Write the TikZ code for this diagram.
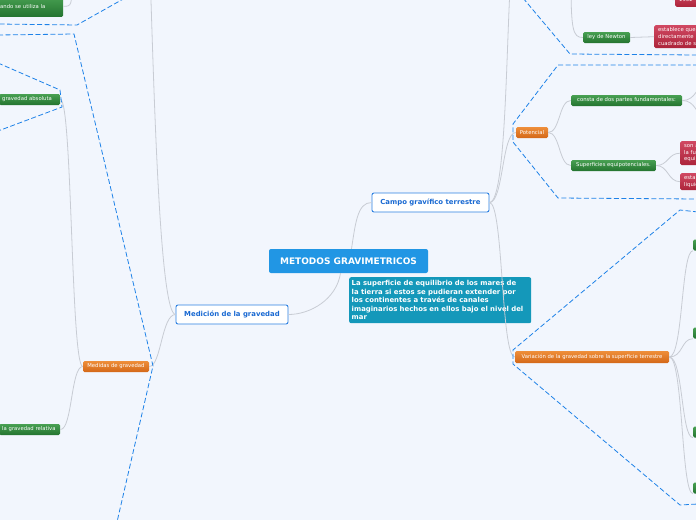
\documentclass[tikz,border=0pt]{standalone}
\usepackage{fontspec}
\setmainfont{DejaVu Sans}
\usepackage{tikz}
\definecolor{mapbg}{RGB}{242,246,253}
\definecolor{maproot}{RGB}{33,150,228}
\definecolor{mapnote}{RGB}{20,152,186}
\definecolor{maptopic}{RGB}{45,128,225}
\definecolor{maptopictext}{RGB}{25,105,210}
\definecolor{maplink}{RGB}{200,204,212}
\definecolor{mapzone}{RGB}{30,130,232}
\definecolor{mapgreentop}{RGB}{72,160,82}
\definecolor{mapgreenbot}{RGB}{36,116,48}
\definecolor{maporangetop}{RGB}{238,142,58}
\definecolor{maporangebot}{RGB}{212,104,24}
\definecolor{mapredtop}{RGB}{208,72,98}
\definecolor{mapredbot}{RGB}{172,36,58}
\tikzset{
  mapRoot/.style={
    rectangle,
    rounded corners=2pt,
    fill=maproot,
    text=white,
    font=\fontsize{9}{10}\selectfont\bfseries,
    minimum width=159pt,
    minimum height=24pt,
    inner sep=0pt
  },
  mapNote/.style={
    rectangle,
    rounded corners=2pt,
    fill=mapnote,
    text=white,
    font=\fontsize{6.9}{8.4}\selectfont\bfseries,
    text width=177pt,
    align=left,
    inner xsep=2.5pt,
    inner ysep=3pt,
    minimum height=46pt
  },
  mapTopic/.style={
    rectangle,
    rounded corners=2pt,
    draw=maptopic,
    line width=0.9pt,
    fill=white,
    text=maptopictext,
    font=\fontsize{6.9}{8}\selectfont\bfseries,
    minimum height=19pt,
    inner sep=0pt
  },
  mapSub/.style={
    rectangle,
    rounded corners=1.5pt,
    text=white,
    font=\fontsize{5.3}{6.7}\selectfont,
    minimum height=11pt,
    inner sep=0pt
  },
  mapGreen/.style={
    mapSub,
    top color=mapgreentop,
    bottom color=mapgreenbot
  },
  mapOrange/.style={
    mapSub,
    top color=maporangetop,
    bottom color=maporangebot
  },
  mapRed/.style={
    mapSub,
    top color=mapredtop,
    bottom color=mapredbot,
    align=left,
    inner xsep=4pt
  },
  mapLink/.style={
    draw=maplink,
    line width=0.8pt
  },
  mapZone/.style={
    draw=mapzone,
    line width=0.8pt,
    dash pattern=on 5pt off 2.5pt
  }
}

\begin{document}
\begin{tikzpicture}[x=1pt, y=-1pt]
  \useasboundingbox (0,0) rectangle (696,520);
  \clip (0,0) rectangle (696,520);
  \fill[mapbg] (0,0) rectangle (696,520);

  \node[mapRoot] (root) at (348.5,261) {METODOS GRAVIMETRICOS};
  \node[mapNote, anchor=north west] (note) at (349,277)
    {La superficie de equilibrio de los mares de\\la tierra si estos se pudieran extender por\\los continentes a través de canales\\imaginarios hechos en ellos bajo el nivel del\\mar};

  \node[mapTopic, minimum width=117pt] (campo) at (430.5,202.5) {Campo gravífico terrestre};
  \node[mapTopic, minimum width=112pt] (medicion) at (232,314.5) {Medición de la gravedad};

  \node[mapOrange, minimum width=32pt] (pot) at (532,132.5) {Potencial};
  \node[mapOrange, minimum width=154pt, minimum height=12pt] (var) at (592,357)
    {Variación de la gravedad sobre la superficie terrestre};
  \node[mapOrange, minimum width=66pt] (medidas) at (116,366.5) {Medidas de gravedad};

  \node[mapGreen, minimum width=111pt] (consta) at (626.5,100.5) {consta de dos partes fundamentales:};
  \node[mapGreen, minimum width=85pt] (superf) at (613.5,165.5) {Superficies equipotenciales.};
  \node[mapGreen, minimum width=47pt] (ley) at (606.5,37.5) {ley de Newton};
  \node[mapGreen, anchor=west, text width=55pt, align=left, inner xsep=3pt] (absoluta) at (-1,99.5) {gravedad absoluta};
  \node[mapGreen, anchor=west, text width=55pt, align=left, inner xsep=3pt] (relativa) at (-1,429.5) {la gravedad relativa};
  \node[mapGreen, anchor=south west, text width=60pt, align=left, inner xsep=3pt, minimum height=21pt] (usando) at (-3,17) {ando se utiliza la};

  \node[mapGreen, anchor=west, minimum width=30pt] (varA) at (693,245) {};
  \node[mapGreen, anchor=west, minimum width=30pt] (varB) at (693,333) {};
  \node[mapGreen, anchor=west, minimum width=30pt] (varC) at (693,432) {};
  \node[mapGreen, anchor=west, minimum width=30pt] (varD) at (693,488) {};

  \node[mapRed, anchor=north west, text width=62pt, minimum height=23pt] (estab) at (654,25)
    {establece que\\directamente\\cuadrado de s};
  \node[mapRed, anchor=south west, text width=34pt, minimum height=14pt] (anio) at (675,7) {1932};
  \node[mapRed, anchor=north west, text width=34pt, minimum height=24pt] (sonA) at (680,141)
    {son a\\la fu\\equip};
  \node[mapRed, anchor=north west, text width=34pt, minimum height=17pt] (estan) at (680,173)
    {estan\\liquid};

  \coordinate (campoUp) at (512,-40);
  \coordinate (medUp) at (150,-30);
  \coordinate (leyUp) at (571,-20);
  \coordinate (anioUp) at (671,-20);
  \coordinate (usandoUp) at (72,-20);
  \coordinate (constaUp) at (704,86);
  \coordinate (constaDown) at (704,116);

  \draw[mapLink] ([xshift=3pt]root.north) .. controls +(4,-26) and +(-14,0) .. (campo.west);
  \draw[mapLink] ([xshift=-8pt]root.south) .. controls +(-4,26) and +(22,0) .. (medicion.east);
  \draw[mapLink] (campo.east) .. controls +(18,0) and +(-6,60) .. (campoUp);
  \draw[mapLink] (campo.east) .. controls +(14,0) and +(-14,0) .. (pot.west);
  \draw[mapLink] (campo.east) .. controls +(14,0) and +(-14,0) .. (var.west);
  \draw[mapLink] (pot.east) .. controls +(12,0) and +(-12,0) .. (consta.west);
  \draw[mapLink] (pot.east) .. controls +(12,0) and +(-12,0) .. (superf.west);
  \draw[mapLink] (consta.east) .. controls +(14,0) and +(-8,0) .. (constaUp);
  \draw[mapLink] (consta.east) .. controls +(14,0) and +(-8,0) .. (constaDown);
  \draw[mapLink] (superf.east) .. controls +(12,0) and +(-12,0) .. (sonA.west);
  \draw[mapLink] (superf.east) .. controls +(12,0) and +(-12,0) .. (estan.west);
  \draw[mapLink] (leyUp) .. controls +(0,50) and +(-10,0) .. (ley.west);
  \draw[mapLink] (ley.east) .. controls +(12,0) and +(-12,0) .. (estab.west);
  \draw[mapLink] (anioUp) .. controls +(0,22) and +(-4,0) .. (anio.west);
  \draw[mapLink] (var.east) .. controls +(14,0) and +(-12,0) .. (varA.south west);
  \draw[mapLink] (var.east) .. controls +(14,0) and +(-12,0) .. (varB.south west);
  \draw[mapLink] (var.east) .. controls +(14,0) and +(-12,0) .. (varC.south west);
  \draw[mapLink] (var.east) .. controls +(14,0) and +(-12,0) .. (varD.south west);
  \draw[mapLink] (medicion.west) .. controls +(-16,0) and +(4,120) .. (medUp);
  \draw[mapLink] (medicion.west) .. controls +(-14,0) and +(12,0) .. (medidas.east);
  \draw[mapLink] (medidas.west) .. controls +(-12,0) and +(12,0) .. (absoluta.east);
  \draw[mapLink] (medidas.west) .. controls +(-12,0) and +(12,0) .. (relativa.east);
  \draw[mapLink] (usandoUp) .. controls +(0,26) and +(8,0) .. (usando.east);

  \draw[mapZone] (125,-2) -- (77,25) -- (-2,24);
  \draw[mapZone] (-2,35) -- (74,34) -- (153,366) -- (117,522);
  \draw[mapZone] (-2,63) -- (60,90) -- (62,107) -- (-2,131);
  \draw[mapZone] (523,-2) -- (570,54) -- (698,55);
  \draw[mapZone] (698,65) -- (558,65) -- (513,124) -- (513,142) -- (558,198) -- (698,199);
  \draw[mapZone] (698,212) -- (680,210) -- (513,350) -- (513,364) -- (680,505) -- (698,504);
\end{tikzpicture}
\end{document}
